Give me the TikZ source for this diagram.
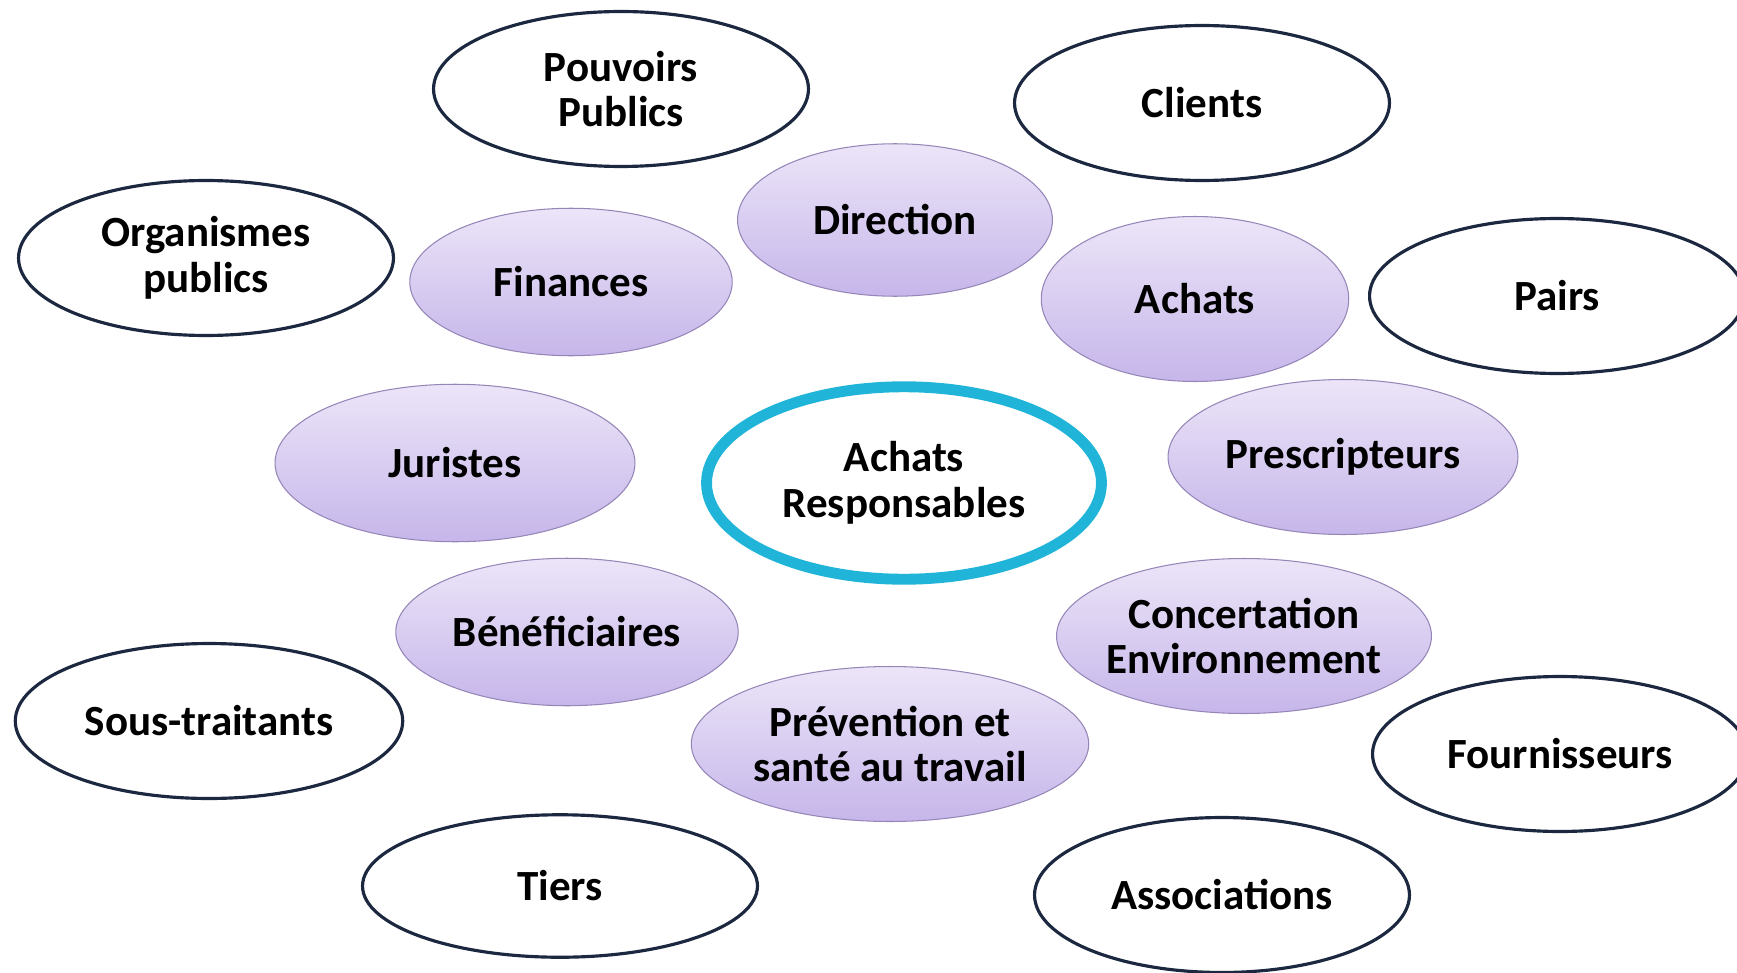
\documentclass[tikz,border=0pt]{standalone}
\usepackage{fontspec}
\setmainfont{Carlito}
\usetikzlibrary{shapes.geometric}
\definecolor{rimnavy}{RGB}{28,40,64}
\definecolor{lavtop}{RGB}{236,229,248}
\definecolor{lavbot}{RGB}{198,182,234}
\definecolor{lavrim}{RGB}{150,134,184}
\definecolor{corecyan}{RGB}{31,180,216}

\begin{document}
\begin{tikzpicture}[x=0.02cm,y=-0.02cm,
  every node/.style={font=\fontsize{24.5}{26}\selectfont\bfseries, align=center, inner sep=0pt},
  extbox/.style={ellipse, draw=rimnavy, line width=1.8pt, fill=white, minimum width=7.5cm, minimum height=3.1cm},
  intbox/.style={ellipse, draw=lavrim, line width=0.6pt, top color=lavtop, bottom color=lavbot, minimum width=#1},
  corebox/.style={ellipse, draw=corecyan, line width=6.2pt, fill=white, minimum width=7.9cm, minimum height=3.85cm}]
\useasboundingbox (0,0) rectangle (1737,973);

% Outer stakeholders
\node[extbox] (pouvoirs) at (621,89) {Pouvoirs\\Publics};
\node[extbox] (clients) at (1202,103) {Clients};
\node[extbox] (organismes) at (206,258) {Organismes\\publics};
\node[extbox] (pairs) at (1557,296) {Pairs};
\node[extbox, minimum width=7.75cm] (soustraitants) at (209,721) {Sous-traitants};
\node[extbox] (fournisseurs) at (1560,754) {Fournisseurs};
\node[extbox, minimum width=7.9cm, minimum height=2.85cm] (tiers) at (560,886) {Tiers};
\node[extbox] (associations) at (1222,895) {Associations};

% Internal stakeholders
\node[intbox=6.3cm, minimum height=3.05cm] (direction) at (895,220) {Direction};
\node[intbox=6.45cm, minimum height=2.95cm] (finances) at (571,282) {Finances};
\node[intbox=6.15cm, minimum height=3.3cm] (achats) at (1195,299) {Achats};
\node[intbox=7.2cm, minimum height=3.15cm] (juristes) at (455,463) {Juristes};
\node[intbox=7cm, minimum height=3.1cm] (prescripteurs) at (1343,457) {Prescripteurs};
\node[intbox=6.85cm, minimum height=2.95cm] (beneficiaires) at (567,632) {Bénéficiaires};
\node[intbox=7.5cm, minimum height=3.1cm, inner sep=-4pt] (concertation) at (1244,636) {Concertation\\Environnement};
\node[intbox=7.95cm, minimum height=3.1cm] (prevention) at (890,744) {Prévention et\\santé au travail};

% Centre
\node[corebox] (core) at (904,483) {Achats\\Responsables};
\end{tikzpicture}
\end{document}
